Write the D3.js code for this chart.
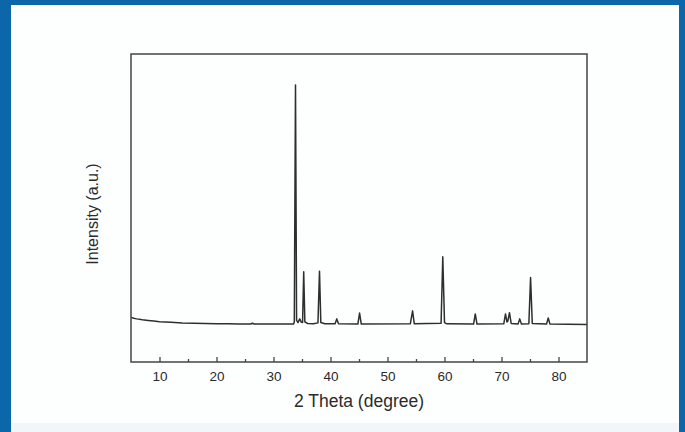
<!DOCTYPE html>
<html>
<head>
<meta charset="utf-8">
<script src="https://cdn.jsdelivr.net/npm/d3@7"></script>
<style>
  html, body { margin: 0; padding: 0; background: #ffffff; }
  svg { display: block; }
  text { font-family: "Liberation Sans", Arial, sans-serif; fill: #2b2b2b; }
</style>
</head>
<body>
<svg id="chart" width="685" height="432"></svg>
<script>
// ---- data ----
const twoTheta = [5, 5.5, 6, 7, 8, 9, 10, 12, 14, 16, 18, 20, 22, 24, 26, 26.3, 26.6, 28, 30, 32,
  33.5, 33.65, 33.86, 34.05, 34.3, 34.6, 34.85, 35.1, 35.3, 35.5, 36, 37, 37.8, 38.07, 38.3, 39,
  40.8, 41.1, 41.4, 44.8, 45.1, 45.4, 54.0, 54.4, 54.7, 59.4, 59.7, 60.0, 60.4, 65.1, 65.4, 65.7,
  70.4, 70.7, 70.95, 71.1, 71.4, 71.7, 72.9, 73.2, 73.5, 74.8, 75.1, 75.4, 77.9, 78.2, 78.5, 85];
const intensity = [145, 142, 140, 137, 135, 133, 131, 129, 127, 126, 125, 124, 124, 123.5, 123.5, 126, 123.5, 123, 123, 123,
  123, 130, 899, 135, 128, 140, 130, 128, 293, 130, 125, 124, 127, 295, 128, 124,
  124, 140, 124, 123, 159, 123, 124, 166, 124, 126, 342, 128, 124, 123, 156, 123,
  124, 156, 130, 132, 160, 125, 123, 140, 123, 124, 274, 125, 123, 143, 123, 122];
const majorTicks = [10, 20, 30, 40, 50, 60, 70, 80];
const minorTicks = [15, 25, 35, 45, 55, 65, 75];
const xTitle = "2 Theta (degree)";
const yTitle = "Intensity (a.u.)";

const points = twoTheta.map((t, i) => ({ t, v: intensity[i] }));

const svg = d3.select("#chart");

// ---- page frame ----
svg.append("rect").attr("x", 0).attr("y", 0).attr("width", 685).attr("height", 432).attr("fill", "#0b67a9");
svg.append("rect").attr("x", 11).attr("y", 5).attr("width", 668).attr("height", 427).attr("fill", "#fdfefe");
svg.append("rect").attr("x", 11).attr("y", 423).attr("width", 668).attr("height", 9).attr("fill", "#f1f6fa");

// ---- scales ----
const plot = { left: 131, right: 587, top: 54, bottom: 362 };
const x = d3.scaleLinear().domain([5, 85]).range([plot.left, plot.right]);
const y = d3.scaleLinear().domain([0, 1000]).range([plot.bottom, plot.top]);

// ---- data line ----
const line = d3.line().x(d => x(d.t)).y(d => y(d.v));
svg.append("path")
  .datum(points)
  .attr("d", line)
  .attr("fill", "none")
  .attr("stroke", "#2e2e2e")
  .attr("stroke-width", 1.5)
  .attr("stroke-linejoin", "round");

// ---- axes ----
const gx = svg.append("g").attr("transform", `translate(0,${plot.bottom})`)
  .call(d3.axisBottom(x).tickValues(majorTicks).tickSizeInner(-5).tickSizeOuter(0).tickPadding(9.5).tickFormat(d3.format("d")));
gx.select(".domain").remove();
gx.selectAll(".tick line").attr("stroke", "#444").attr("stroke-width", 1.3);
gx.selectAll(".tick text").attr("font-size", 13.5).attr("fill", "#2b2b2b")
  .attr("font-family", "'Liberation Sans', Arial, sans-serif");

const gxm = svg.append("g").attr("transform", `translate(0,${plot.bottom})`)
  .call(d3.axisBottom(x).tickValues(minorTicks).tickSizeInner(-3).tickSizeOuter(0).tickFormat(""));
gxm.select(".domain").remove();
gxm.selectAll(".tick line").attr("stroke", "#444").attr("stroke-width", 1.3);

// ---- plot frame ----
svg.append("rect")
  .attr("x", plot.left).attr("y", plot.top)
  .attr("width", plot.right - plot.left).attr("height", plot.bottom - plot.top)
  .attr("fill", "none").attr("stroke", "#444").attr("stroke-width", 1.5);

// ---- titles ----
svg.append("text")
  .attr("x", 359).attr("y", 401).attr("dy", "0.35em")
  .attr("text-anchor", "middle").attr("font-size", 17.5)
  .text(xTitle);

svg.append("text")
  .attr("transform", "translate(92,214) rotate(-90)")
  .attr("dy", "0.35em")
  .attr("text-anchor", "middle").attr("font-size", 16)
  .text(yTitle);
</script>
</body>
</html>
